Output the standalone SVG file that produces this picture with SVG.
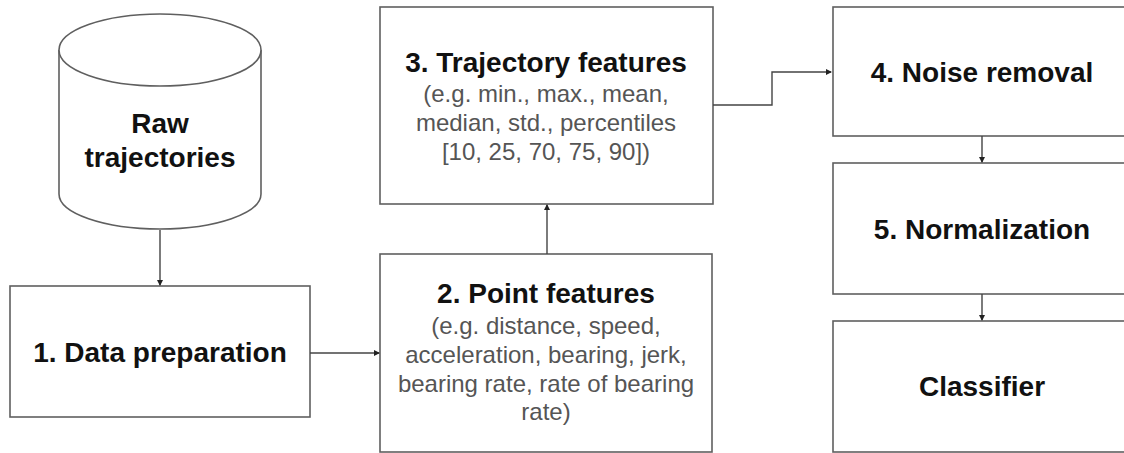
<svg xmlns="http://www.w3.org/2000/svg" width="1124" height="453" viewBox="0 0 1124 453">
  <style>
    .box { fill: #ffffff; stroke: #5f5f5f; stroke-width: 1.6; }
    .title { font-family: "Liberation Sans", Arial, sans-serif; font-weight: bold; font-size: 28px; fill: #111111; text-anchor: middle; }
    .sub { font-family: "Liberation Sans", Arial, sans-serif; font-size: 24px; fill: #555555; text-anchor: middle; }
    .link { fill: none; stroke: #444444; stroke-width: 1.4; }
  </style>
  <defs>
    <marker id="arrow" markerWidth="6" markerHeight="6" refX="5" refY="3" orient="auto" markerUnits="userSpaceOnUse">
      <path d="M0,0 L6,3 L0,6 Z" fill="#222222"/>
    </marker>
  </defs>
  <rect width="1124" height="453" fill="#ffffff"/>

  <!-- data store -->
  <g id="raw-trajectories">
    <path class="box" d="M59,50 L59,194 A101,35 0 0 0 261,194 L261,50"/>
    <ellipse class="box" cx="160" cy="50" rx="101" ry="36"/>
    <text class="title" x="160" y="133">Raw</text>
    <text class="title" x="160" y="167">trajectories</text>
  </g>

  <g id="data-preparation">
    <rect class="box" x="10" y="286" width="300" height="131"/>
    <text class="title" x="160" y="362">1. Data preparation</text>
  </g>

  <g id="point-features">
    <rect class="box" x="380" y="254" width="332" height="198"/>
    <text class="title" x="546" y="303">2. Point features</text>
    <text class="sub" x="546" y="334">(e.g. distance, speed,</text>
    <text class="sub" x="546" y="363">acceleration, bearing, jerk,</text>
    <text class="sub" x="546" y="392">bearing rate, rate of bearing</text>
    <text class="sub" x="546" y="420">rate)</text>
  </g>

  <g id="trajectory-features">
    <rect class="box" x="380" y="7" width="333" height="197"/>
    <text class="title" x="546" y="72">3. Trajectory features</text>
    <text class="sub" x="546" y="102">(e.g. min., max., mean,</text>
    <text class="sub" x="546" y="131">median, std., percentiles</text>
    <text class="sub" x="546" y="160">[10, 25, 70, 75, 90])</text>
  </g>

  <g id="noise-removal">
    <rect class="box" x="833" y="7" width="300" height="129"/>
    <text class="title" x="982" y="82">4. Noise removal</text>
  </g>

  <g id="normalization">
    <rect class="box" x="833" y="163" width="300" height="131"/>
    <text class="title" x="982" y="239">5. Normalization</text>
  </g>

  <g id="classifier">
    <rect class="box" x="833" y="321" width="300" height="131"/>
    <text class="title" x="982" y="396">Classifier</text>
  </g>

  <g id="connectors">
    <path class="link" d="M160,230 L160,285" marker-end="url(#arrow)"/>
    <path class="link" d="M310,353 L379,353" marker-end="url(#arrow)"/>
    <path class="link" d="M547,254 L547,205" marker-end="url(#arrow)"/>
    <path class="link" d="M713,105 L772,105 L772,72 L831,72" marker-end="url(#arrow)"/>
    <path class="link" d="M982,136 L982,162" marker-end="url(#arrow)"/>
    <path class="link" d="M982,294 L982,320" marker-end="url(#arrow)"/>
  </g>
</svg>
